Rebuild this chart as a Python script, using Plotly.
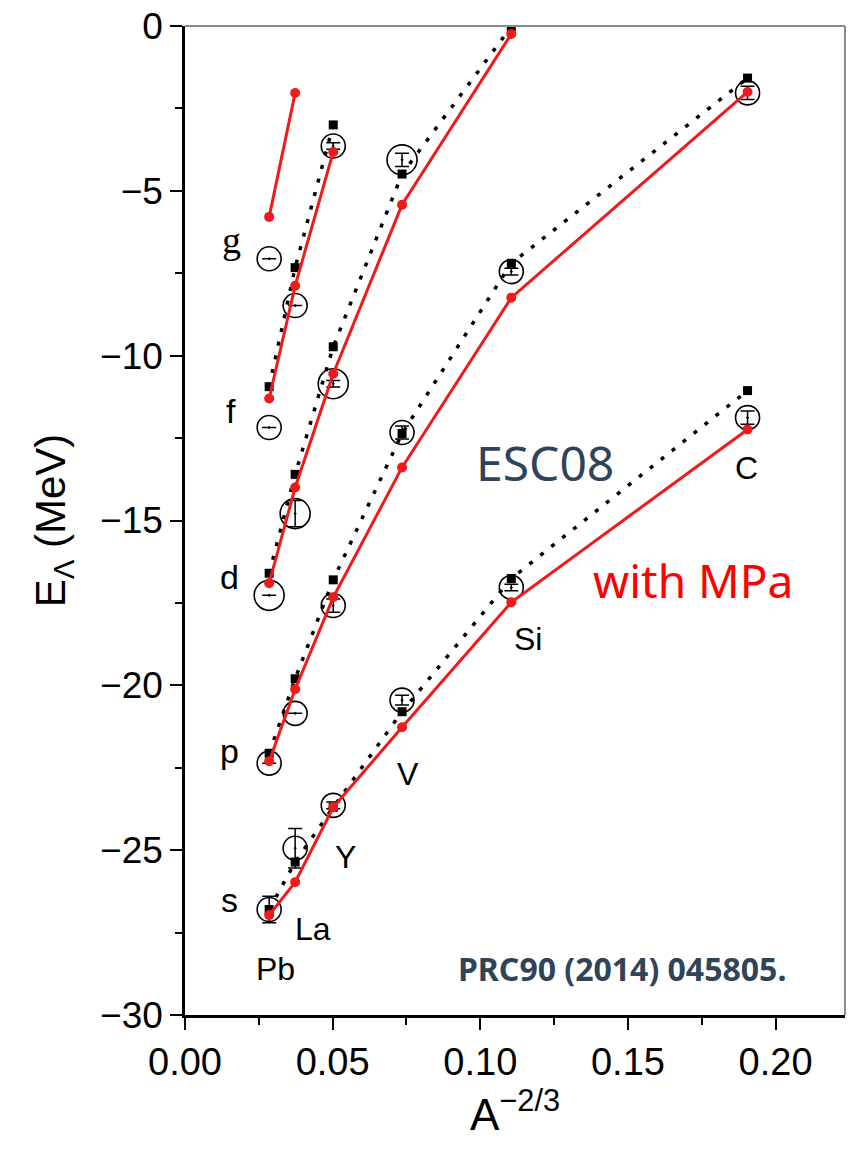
import plotly.graph_objects as go

# A^{-2/3} for Pb, La, Y, V, Si, C
x_nuclei = [0.0285, 0.0373, 0.0502, 0.0735, 0.1105, 0.1905]
nuclei = ["Pb", "La", "Y", "V", "Si", "C"]
shells = ["s", "p", "d", "f", "g"]

# ESC08 with MPa (red)
mpa = {
    "s": [-26.97, -25.97, -23.70, -21.27, -17.48, -12.24],
    "p": [-22.30, -20.12, -17.33, -13.39, -8.24, -2.00],
    "d": [-16.90, -14.00, -10.55, -5.42, -0.24],
    "f": [-11.30, -7.88, -3.82],
    "g": [-5.79, -2.03],
}
# ESC08 (black squares, dotted)
esc = {
    "s": [-26.80, -25.36, -23.70, -20.80, -16.76, -11.06],
    "p": [-22.06, -19.80, -16.80, -12.36, -7.20, -1.58],
    "d": [-16.60, -13.60, -9.73, -4.49, -0.02],
    "f": [-10.94, -7.33, -3.00],
}
# experimental data (open circles)
exp_e = {
    "s": [-26.80, -24.94, -23.64, -20.45, -17.03, -11.88],
    "p": [-22.36, -20.85, -17.58, -12.33, -7.45, -2.03],
    "d": [-17.27, -14.79, -10.85, -4.06],
    "f": [-12.18, -8.48, -3.64],
    "g": [-7.06],
}
exp_err = {
    "s": [0.40, 0.60, 0.10, 0.15, 0.10, 0.20],
    "p": [0.00, 0.00, 0.20, 0.20, 0.10, 0.20],
    "d": [0.00, 0.40, 0.10, 0.20],
    "f": [0.00, 0.00, 0.10],
    "g": [0.00],
}

RED = "#f01a1a"
SLATE = "#2f4458"

fig = go.Figure()

for sh in shells:
    ys = exp_e[sh]
    fig.add_trace(go.Scatter(
        x=x_nuclei[:len(ys)], y=ys, mode="markers",
        marker=dict(symbol="circle-open-dot", size=30 if sh == "d" else 24,
                    color="black", line=dict(width=1.6, color="black")),
        error_y=dict(type="data", array=exp_err[sh], visible=True,
                     color="black", thickness=1.5, width=7),
        showlegend=False, cliponaxis=False))

for sh in ["s", "p", "d", "f"]:
    ys = esc[sh]
    fig.add_trace(go.Scatter(
        x=x_nuclei[:len(ys)], y=ys, mode="lines+markers",
        line=dict(color="black", width=3.5, dash="4px,10px"),
        marker=dict(symbol="square", size=9, color="black"),
        showlegend=False))

for sh in shells:
    ys = mpa[sh]
    fig.add_trace(go.Scatter(
        x=x_nuclei[:len(ys)], y=ys, mode="lines+markers",
        line=dict(color=RED, width=3),
        marker=dict(symbol="circle", size=10, color=RED),
        showlegend=False))

# shell labels
shell_lbl = [("g", 0.0159, -6.5), ("f", 0.0156, -11.67), ("d", 0.0152, -16.7),
             ("p", 0.0149, -22.0), ("s", 0.0149, -26.5)]
for t, x, y in shell_lbl:
    fig.add_annotation(x=x, y=y, text=t, showarrow=False,
                       font=dict(family="Liberation Serif" if t == "g" else "Liberation Sans",
                                 size=38 if t == "g" else 34, color="black"))

nuc_lbl = [("Pb", 0.0305, -28.6), ("La", 0.0433, -27.4), ("Y", 0.0545, -25.2),
           ("V", 0.0755, -22.7), ("Si", 0.116, -18.6), ("C", 0.190, -13.4)]
for t, x, y in nuc_lbl:
    fig.add_annotation(x=x, y=y, text=t, showarrow=False,
                       font=dict(family="Liberation Sans", size=32, color="black"))

fig.add_annotation(x=0.1218, y=-13.24, text="ESC08", showarrow=False,
                   font=dict(family="Noto Sans", size=48, color=SLATE))
fig.add_annotation(x=0.1719, y=-16.8, text="with MPa", showarrow=False,
                   font=dict(family="Noto Sans", size=46, color="#ff0000"))
fig.add_annotation(x=0.1479, y=-28.6, text="<b>PRC90 (2014) 045805.</b>", showarrow=False,
                   font=dict(family="Noto Sans", size=32, color=SLATE))

# top/right frame
fig.add_shape(type="line", xref="paper", yref="paper", x0=0, x1=1, y0=1, y1=1,
              line=dict(color="#8c8c8c", width=2))
fig.add_shape(type="line", xref="paper", yref="paper", x0=1, x1=1, y0=0, y1=1,
              line=dict(color="#8c8c8c", width=2))

fig.update_xaxes(range=[0, 0.2235], tickmode="array",
                 tickvals=[0, 0.05, 0.10, 0.15, 0.20], tickformat=".2f",
                 ticks="outside", ticklen=12, tickwidth=2, tickcolor="black",
                 minor=dict(tickvals=[0.025, 0.075, 0.125, 0.175, 0.225],
                            ticks="outside", ticklen=7, tickwidth=2, tickcolor="black"),
                 showline=True, linecolor="black", linewidth=2.5, showgrid=False,
                 zeroline=False,
                 tickfont=dict(family="Liberation Sans", size=38, color="black"),
                 title=dict(text="A<sup>−2/3</sup>", standoff=12,
                            font=dict(family="Liberation Sans", size=44, color="black")))
fig.update_yaxes(range=[-30, 0], tickmode="array",
                 tickvals=[-30, -25, -20, -15, -10, -5, 0],
                 ticks="outside", ticklen=12, tickwidth=2, tickcolor="black",
                 minor=dict(tickvals=[-27.5, -22.5, -17.5, -12.5, -7.5, -2.5],
                            ticks="outside", ticklen=7, tickwidth=2, tickcolor="black"),
                 showline=True, linecolor="black", linewidth=2.5, showgrid=False,
                 zeroline=False,
                 tickfont=dict(family="Liberation Sans", size=37, color="black"),
                 title=dict(text="E<sub>Λ</sub> (MeV)", standoff=22,
                            font=dict(family="Liberation Sans", size=42, color="black")))

fig.update_layout(width=851, height=1152, plot_bgcolor="white", paper_bgcolor="white",
                  margin=dict(l=185, r=6, t=24, b=137), showlegend=False)

fig.write_html("out.html")
